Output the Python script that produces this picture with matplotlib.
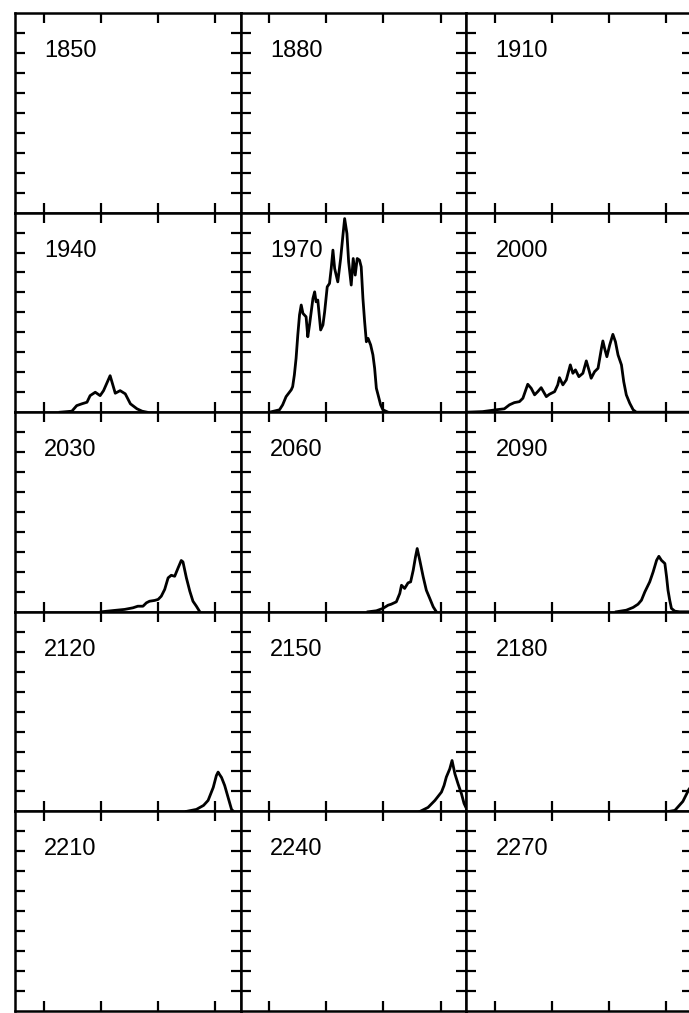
import matplotlib
matplotlib.use("Agg")
import matplotlib.pyplot as plt

years = [1850, 1880, 1910, 1940, 1970, 2000, 2030, 2060, 2090,
         2120, 2150, 2180, 2210, 2240, 2270]

x_ticks = [1, 3, 5, 7]
y_ticks = [1, 2, 3, 4, 5, 6, 7, 8, 9]

x_1940 = [1.58, 1.99, 2.16, 2.34, 2.52, 2.63, 2.81, 2.98, 3.10, 3.33, 3.51, 3.68, 3.86, 4.04, 4.27, 4.45, 4.62]
y_1940 = [0.00, 0.05, 0.33, 0.42, 0.50, 0.83, 1.00, 0.83, 1.08, 1.83, 0.95, 1.08, 0.92, 0.42, 0.17, 0.05, 0.00]

x_1970 = [1.01, 1.36, 1.47, 1.59, 1.77, 1.82, 1.88, 1.94, 2.00, 2.06, 2.12, 2.18, 2.29, 2.35, 2.41,
          2.53, 2.59, 2.64, 2.70, 2.80, 2.88, 2.94, 3.03, 3.11, 3.17, 3.23, 3.29, 3.40, 3.50, 3.58,
          3.64, 3.72, 3.78, 3.87, 3.94, 4.01, 4.08, 4.16, 4.22, 4.28, 4.34, 4.40, 4.46, 4.55, 4.63,
          4.69, 4.75, 4.81, 4.90, 4.98, 5.16]
y_1970 = [0.00, 0.12, 0.37, 0.78, 1.12, 1.28, 1.87, 2.70, 3.87, 4.87, 5.37, 4.95, 4.78, 3.78, 4.37,
          5.70, 6.03, 5.53, 5.62, 4.12, 4.37, 5.03, 6.28, 6.45, 7.20, 8.12, 7.20, 6.53, 7.70, 8.87,
          9.70, 8.95, 7.53, 6.37, 7.70, 6.87, 7.70, 7.62, 7.28, 5.70, 4.53, 3.53, 3.70, 3.37, 2.87,
          2.20, 1.20, 0.87, 0.37, 0.12, 0.00]

x_2000 = [0.00, 0.57, 1.04, 1.33, 1.51, 1.68, 1.86, 1.98, 2.15, 2.27, 2.39, 2.50, 2.62, 2.80, 2.91,
          3.09, 3.20, 3.26, 3.38, 3.50, 3.64, 3.73, 3.82, 3.94, 4.08, 4.20, 4.29, 4.37, 4.49, 4.61,
          4.73, 4.78, 4.84, 4.92, 5.02, 5.13, 5.22, 5.31, 5.43, 5.51, 5.60, 5.72, 5.84, 5.95, 7.90]
y_2000 = [0.00, 0.03, 0.12, 0.17, 0.37, 0.48, 0.53, 0.70, 1.40, 1.20, 0.87, 1.03, 1.23, 0.78, 0.90,
          1.03, 1.37, 1.73, 1.37, 1.62, 2.37, 1.95, 2.12, 1.78, 1.95, 2.57, 2.12, 1.70, 2.03, 2.20,
          3.20, 3.57, 3.20, 2.78, 3.37, 3.90, 3.53, 2.87, 2.37, 1.53, 0.87, 0.45, 0.12, 0.00, 0.00]

x_2030 = [3.02, 3.49, 3.84, 4.13, 4.30, 4.48, 4.60, 4.71, 4.89, 5.01, 5.12, 5.24, 5.36, 5.47, 5.59,
          5.71, 5.82, 5.88, 6.00, 6.12, 6.23, 6.35, 6.47]
y_2030 = [0.00, 0.07, 0.12, 0.20, 0.28, 0.28, 0.45, 0.53, 0.57, 0.62, 0.78, 1.12, 1.70, 1.83, 1.78,
          2.20, 2.57, 2.50, 1.70, 1.03, 0.53, 0.28, 0.00]

x_2060 = [4.46, 4.75, 4.98, 5.16, 5.27, 5.45, 5.57, 5.63, 5.74, 5.86, 5.95, 6.04, 6.12, 6.18, 6.27,
          6.39, 6.50, 6.62, 6.74, 6.85]
y_2060 = [0.00, 0.05, 0.17, 0.33, 0.38, 0.50, 0.92, 1.33, 1.17, 1.45, 1.50, 2.08, 2.75, 3.17, 2.58,
          1.75, 1.08, 0.67, 0.25, 0.00]

x_2090 = [5.25, 5.60, 5.84, 6.01, 6.13, 6.25, 6.42, 6.54, 6.66, 6.74, 6.83, 6.95, 7.01, 7.06, 7.12,
          7.18, 7.30, 7.47, 7.90]
y_2090 = [0.00, 0.08, 0.22, 0.38, 0.58, 1.00, 1.50, 2.00, 2.58, 2.78, 2.58, 2.42, 1.75, 1.08, 0.58,
          0.17, 0.03, 0.00, 0.00]

x_2120 = [6.00, 6.35, 6.60, 6.76, 6.94, 7.05, 7.11, 7.16, 7.23, 7.34, 7.46, 7.58, 7.65]
y_2120 = [0.00, 0.10, 0.30, 0.55, 1.20, 1.80, 1.97, 1.85, 1.70, 1.30, 0.70, 0.10, 0.00]

x_2150 = [6.28, 6.56, 6.80, 7.03, 7.12, 7.20, 7.32, 7.40, 7.50, 7.61, 7.73, 7.82, 7.95]
y_2150 = [0.00, 0.20, 0.55, 0.97, 1.30, 1.72, 2.13, 2.55, 1.88, 1.38, 0.88, 0.40, 0.00]

x_2180 = [7.10, 7.30, 7.58, 7.79, 7.95]
y_2180 = [0.00, 0.05, 0.50, 1.10, 1.40]

curves = {
    1940: (x_1940, y_1940),
    1970: (x_1970, y_1970),
    2000: (x_2000, y_2000),
    2030: (x_2030, y_2030),
    2060: (x_2060, y_2060),
    2090: (x_2090, y_2090),
    2120: (x_2120, y_2120),
    2150: (x_2150, y_2150),
    2180: (x_2180, y_2180),
}

W, H = 689, 1013
fig = plt.figure(figsize=(W / 100, H / 100), dpi=100)
gs = fig.add_gridspec(5, 3, left=15 / W, right=692 / W,
                      top=1 - 13 / H, bottom=1 - 1011 / H,
                      wspace=0, hspace=0)

for i, yr in enumerate(years):
    r, c = divmod(i, 3)
    ax = fig.add_subplot(gs[r, c])
    ax.set_xlim(0, 7.9)
    ax.set_ylim(0, 10)
    ax.set_xticks(x_ticks)
    ax.set_yticks(y_ticks)
    ax.set_xticklabels([])
    ax.set_yticklabels([])
    ax.tick_params(direction="in", length=7.5, width=1.6, color="black",
                   top=True, right=True, bottom=True, left=True)
    for sp in ax.spines.values():
        sp.set_linewidth(1.8)
        sp.set_color("black")
    if yr in curves:
        xs, ys = curves[yr]
        ax.plot(xs, ys, color="black", lw=2.0, solid_joinstyle="round")
    ax.text(0.13, 0.78, str(yr), transform=ax.transAxes, ha="left",
            va="baseline", fontsize=17, family="Liberation Sans", color="black")

fig.savefig("out.png", dpi=100, facecolor="white")
